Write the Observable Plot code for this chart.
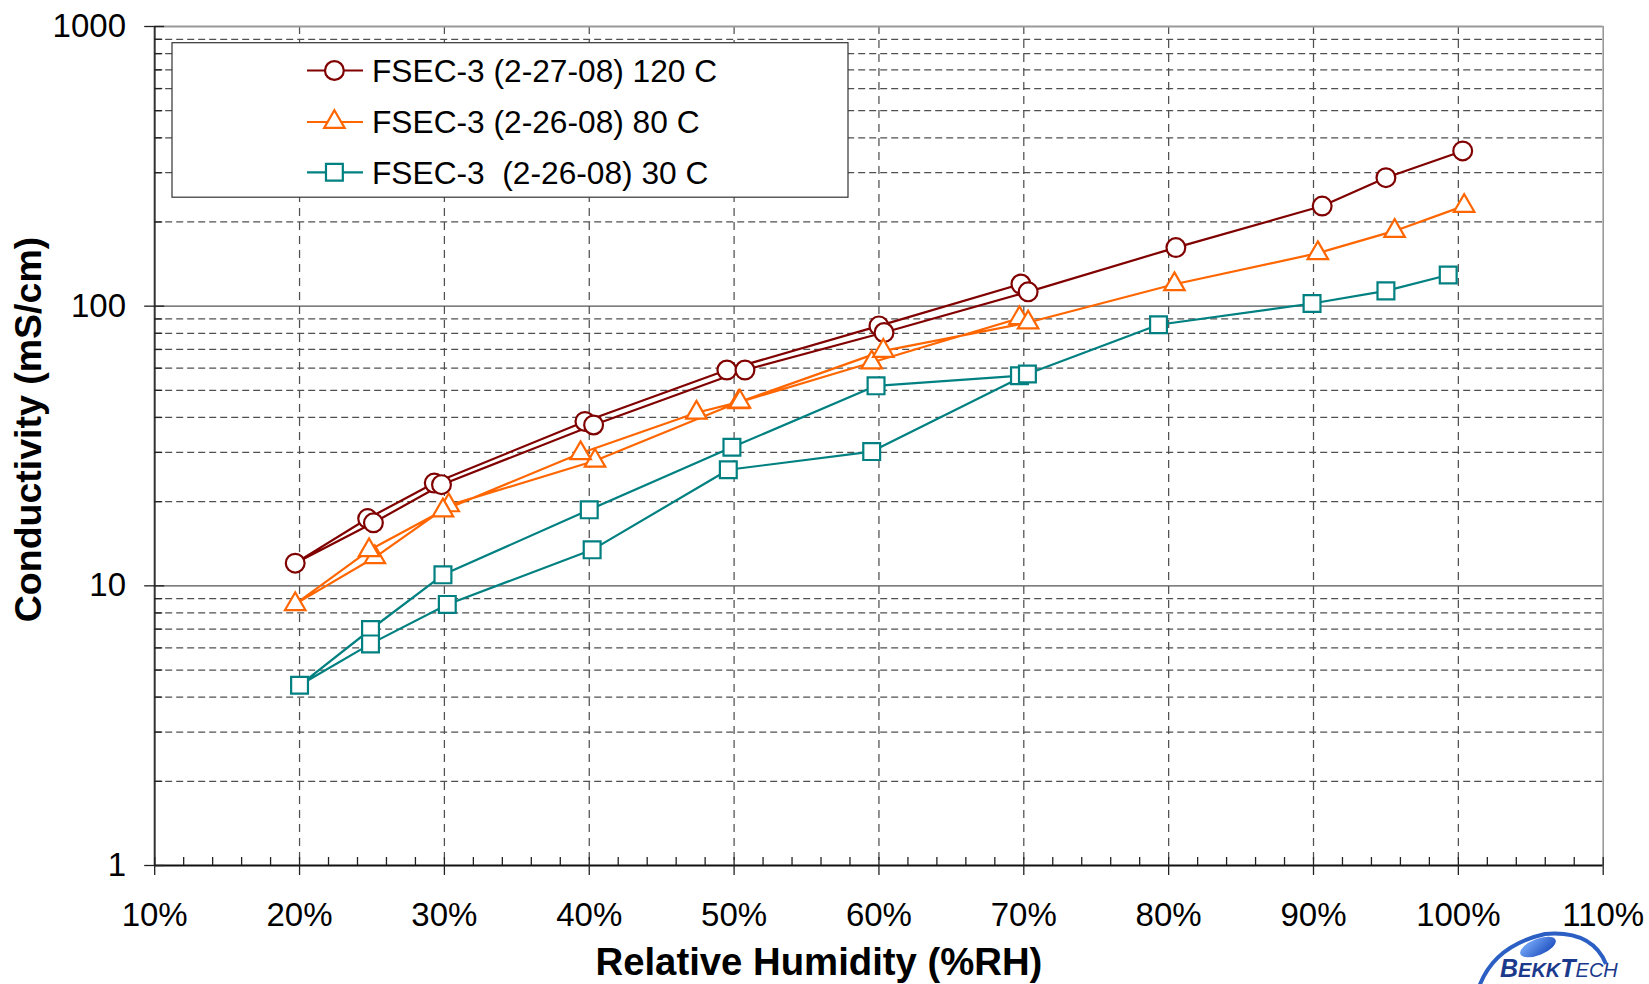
<!DOCTYPE html>
<html>
<head>
<meta charset="utf-8">
<script src="https://cdn.jsdelivr.net/npm/d3@7"></script>
<script src="https://cdn.jsdelivr.net/npm/@observablehq/plot@0.6"></script>
<style>
  html, body { margin: 0; padding: 0; background: #fff; }
  #wrap { position: relative; width: 1649px; height: 984px; overflow: hidden; font-family: "Liberation Sans", Arial, sans-serif; }
  #wrap > svg { display: block; }
  #overlay { position: absolute; left: 0; top: 0; pointer-events: none; }
</style>
</head>
<body>
<div id="wrap"></div>
<script>
// ---------------- data ----------------
const seriesNames = ["FSEC-3 (2-27-08) 120 C", "FSEC-3 (2-26-08) 80 C", "FSEC-3  (2-26-08) 30 C"];

// 120 C (sweep 70% -> 20% -> 100%)
const rh120   = [69.8, 60.0, 49.5, 39.7, 29.3, 24.7, 19.7, 25.1, 29.8, 40.3, 50.75, 60.35, 70.3, 80.5, 90.6, 95.0, 100.3];
const cond120 = [120, 85, 59.1, 38.7, 23.3, 17.4, 12.05, 16.8, 23.0, 37.6, 59.1, 80.5, 112.5, 162, 228, 288, 359];

// 80 C
const rh80   = [69.7, 59.5, 50.3, 40.4, 30.3, 25.2, 19.7, 24.8, 29.9, 39.4, 47.4, 50.4, 60.3, 70.3, 80.4, 90.3, 95.6, 100.4];
const cond80 = [90.6, 62.9, 45.3, 28.0, 19.4, 12.65, 8.6, 13.4, 18.6, 29.8, 41.6, 45.5, 69.2, 87.4, 119.8, 154.7, 185.8, 228.3];

// 30 C
const rh30   = [69.7, 59.8, 49.85, 40.0, 29.9, 24.9, 20.0, 24.9, 30.2, 40.2, 49.6, 59.5, 70.25, 79.3, 89.9, 95.0, 99.3];
const cond30 = [56.4, 51.9, 31.3, 18.7, 10.95, 6.98, 4.41, 6.2, 8.58, 13.45, 26.0, 30.2, 57.2, 85.8, 102.2, 113.4, 129.3];

const xTicks = [10, 20, 30, 40, 50, 60, 70, 80, 90, 100, 110];
const yTicks = [1, 10, 100, 1000];

const xLabel = "Relative Humidity (%RH)";
const yLabel = "Conductivity (mS/cm)";

// ---------------- styles ----------------
const colors = ["#800000", "#FF6600", "#008080"];
const FONT = "Liberation Sans, Arial, sans-serif";
const W = 1649, H = 984;
const mL = 154.2, mR = 46.3, mT = 26, mB = 119;
const LW = 2.2;

const rows = (xs, ys) => xs.map((x, i) => ({x, y: ys[i]}));
const d120 = rows(rh120, cond120);
const d80 = rows(rh80, cond80);
const d30 = rows(rh30, cond30);

const minorY = [];
for (const d of [1, 10, 100]) for (let k = 2; k <= 9; k++) minorY.push(k * d);
const minorX = d3.range(12, 110, 2).filter(v => v % 10 !== 0);
const gridX = xTicks.filter(v => v > 10 && v < 110);
const blank = () => "";

const plot = Plot.plot({
  width: W, height: H,
  marginLeft: mL, marginRight: mR, marginTop: mT, marginBottom: mB,
  style: {fontFamily: FONT, background: "white", color: "#000", overflow: "visible"},
  x: {domain: [10, 110]},
  y: {type: "log", domain: [1, 1000]},
  marks: [
    // grid
    Plot.ruleY(minorY, {stroke: "#505050", strokeWidth: 1.25, strokeDasharray: "7,4"}),
    Plot.ruleX(gridX, {stroke: "#505050", strokeWidth: 1.25, strokeDasharray: "8,6"}),
    Plot.ruleY([10, 100], {stroke: "#555", strokeWidth: 1.4}),
    Plot.ruleY([1000], {stroke: "#999", strokeWidth: 2}),
    Plot.ruleX([110], {stroke: "#999", strokeWidth: 1.6}),
    Plot.ruleX([10], {stroke: "#333", strokeWidth: 2}),
    Plot.ruleY([1], {stroke: "#111", strokeWidth: 2}),
    // x ticks
    Plot.axisX({ticks: xTicks, tickSize: 18, dy: -8, tickFormat: blank, label: null, stroke: "#222", strokeWidth: 1.3}),
    Plot.axisX({ticks: minorX, tickSize: 8, dy: -8, tickFormat: blank, label: null, stroke: "#222", strokeWidth: 1.3}),
    Plot.axisX({ticks: xTicks, tickSize: 0, tickPadding: 37, tickFormat: d => d + "%", label: null, fontSize: 33}),
    // y ticks
    Plot.axisY({ticks: yTicks, tickSize: 20, dx: 10, tickFormat: blank, label: null, stroke: "#222", strokeWidth: 1.3}),
    Plot.axisY({ticks: minorY, tickSize: 8, dx: 8, tickFormat: blank, label: null, stroke: "#222", strokeWidth: 1.3}),
    Plot.axisY({ticks: yTicks, tickSize: 0, tickPadding: 28.7, tickFormat: d => String(d), label: null, fontSize: 33}),
    // axis titles
    Plot.text([xLabel], {text: d => d, frameAnchor: "bottom", textAnchor: "middle", lineAnchor: "bottom", dx: -60, dy: 109, fontSize: 38.3, fontWeight: "bold"}),
    Plot.text([yLabel], {text: d => d, frameAnchor: "left", textAnchor: "middle", lineAnchor: "bottom", rotate: -90, dx: -114, dy: -16.5, fontSize: 37.5, fontWeight: "bold"}),
    // series
    Plot.line(d120, {x: "x", y: "y", stroke: colors[0], strokeWidth: LW}),
    Plot.dot(d120, {x: "x", y: "y", r: 9.4, symbol: "circle", stroke: colors[0], strokeWidth: LW, fill: "white"}),
    Plot.line(d80, {x: "x", y: "y", stroke: colors[1], strokeWidth: LW}),
    Plot.dot(d80, {x: "x", y: "y", r: 7.6, symbol: "triangle", stroke: colors[1], strokeWidth: LW, fill: "white"}),
    Plot.line(d30, {x: "x", y: "y", stroke: colors[2], strokeWidth: LW}),
    Plot.dot(d30, {x: "x", y: "y", r: 9.5, symbol: "square", stroke: colors[2], strokeWidth: LW, fill: "white"})
  ]
});

const wrap = document.getElementById("wrap");
wrap.appendChild(plot);

// ---------------- legend + logo overlay ----------------
const ov = d3.select(wrap).append("svg")
  .attr("id", "overlay").attr("width", W).attr("height", H)
  .style("font-family", FONT);

const lg = ov.append("g");
lg.append("rect").attr("x", 172).attr("y", 42.7).attr("width", 676).attr("height", 154.5)
  .attr("fill", "white").attr("stroke", "#333").attr("stroke-width", 1.2);

const symbols = [d3.symbolCircle, d3.symbolTriangle, d3.symbolSquare];
const radii = [9.4, 7.6, 9.5];
const rowY = [70.5, 122, 172.3];
seriesNames.forEach((name, i) => {
  const y = rowY[i];
  lg.append("line").attr("x1", 307).attr("x2", 363).attr("y1", y).attr("y2", y)
    .attr("stroke", colors[i]).attr("stroke-width", LW);
  lg.append("path")
    .attr("d", d3.symbol(symbols[i], radii[i] * radii[i] * Math.PI)())
    .attr("transform", `translate(334.4,${y})`)
    .attr("fill", "white").attr("stroke", colors[i]).attr("stroke-width", LW);
  lg.append("text").attr("x", 372).attr("y", y + 11.3)
    .attr("font-size", 31.7).attr("fill", "#000").style("white-space", "pre")
    .text(name);
});

// BekkTech logo (decorative)
const logo = ov.append("g");
const grad = ov.append("defs").append("linearGradient").attr("id", "blob").attr("x1", 0).attr("y1", 0).attr("x2", 1).attr("y2", 1);
grad.append("stop").attr("offset", "0%").attr("stop-color", "#7fb2ff");
grad.append("stop").attr("offset", "100%").attr("stop-color", "#1546b8");
logo.append("path").attr("d", "M1478,990 Q1492,946 1545,934 Q1592,930 1606,964")
  .attr("fill", "none").attr("stroke", "#2c5fc4").attr("stroke-width", 4);
logo.append("ellipse").attr("cx", 1538).attr("cy", 947).attr("rx", 19).attr("ry", 8)
  .attr("transform", "rotate(-22,1538,947)").attr("fill", "url(#blob)");
const lt = logo.append("text").attr("x", 1500).attr("y", 977)
  .attr("fill", "#1b3a8c").attr("font-style", "italic").attr("font-weight", "bold");
lt.append("tspan").attr("font-size", 25).text("B");
lt.append("tspan").attr("font-size", 20).text("EKK");
lt.append("tspan").attr("font-size", 25).text("T");
lt.append("tspan").attr("font-size", 20).attr("font-weight", "normal").text("ECH");
</script>
</body>
</html>
